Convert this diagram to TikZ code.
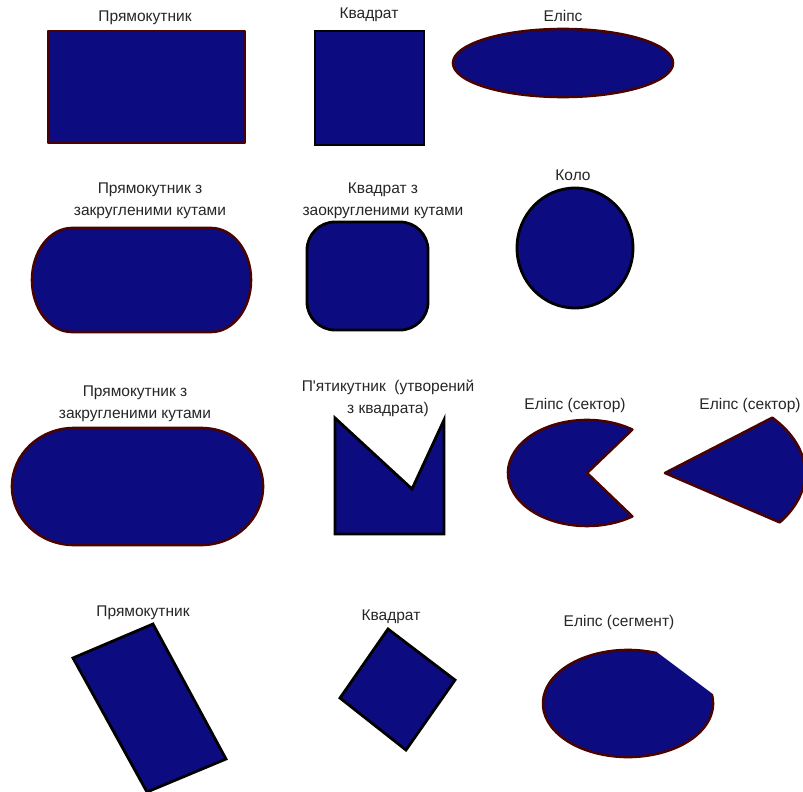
\documentclass[tikz,border=0pt]{standalone}
\usepackage{fontspec}
\newfontfamily\lab{Liberation Sans}[Ligatures=TeXOff]
\definecolor{navy}{RGB}{12,12,128}
\definecolor{maroon}{RGB}{72,2,2}
\begin{document}
\begin{tikzpicture}[x=1pt,y=1pt,
 redshape/.style={fill=navy,draw=maroon,line width=2.6pt,line join=round},
 blkshape/.style={fill=navy,draw=black,line width=2.8pt,line join=miter},
 lbl/.style={font=\lab\fontsize{15.5}{22}\selectfont, text=black!85, align=center, inner sep=0pt}]
\useasboundingbox (0,0) rectangle (803,-792);
\clip (0,0) rectangle (803,-792);
% row 1
\draw[redshape] (48,-31) rectangle (245,-143);
\node[lbl] (l1) at (145,-18) {Прямокутник};
\draw[blkshape] (315,-31) rectangle (424,-145);
\node[lbl] (l2) at (369,-15) {Квадрат};
\draw[redshape] (563,-63) ellipse [x radius=110, y radius=34];
\node[lbl] (l3) at (563,-16) {Еліпс};
% row 2
\draw[redshape] (72,-228) -- (211,-228) arc[start angle=90,end angle=-90,x radius=40,y radius=52] -- (72,-332) arc[start angle=270,end angle=90,x radius=40,y radius=52] -- cycle;
\node[lbl] (l4) at (150,-201) {Прямокутник з\\закругленими кутами};
\draw[blkshape, rounded corners=28] (307,-222) rectangle (428,-330);
\node[lbl] (l5) at (383,-201) {Квадрат з\\заокругленими кутами};
\draw[blkshape] (575,-248) ellipse [x radius=58, y radius=60];
\node[lbl] (l6) at (573,-175) {Коло};
% row 3
\draw[redshape] (74,-428) -- (201,-428) arc[start angle=90,end angle=-90,x radius=62,y radius=58.5] -- (74,-545) arc[start angle=270,end angle=90,x radius=62,y radius=58.5] -- cycle;
\node[lbl] (l7) at (135,-404) {Прямокутник з\\закругленими кутами};
\draw[blkshape] (335,-418) -- (412,-489) -- (444,-420) -- (444,-534) -- (335,-534) -- cycle;
\node[lbl] (l8) at (388,-398) {П'ятикутник\ \ (утворений\\з квадрата)};
\draw[redshape] (587,-473) -- ++(55:79 and 53) arc[start angle=55,end angle=305,x radius=79,y radius=53] -- cycle;
\node[lbl] (l9) at (575,-405) {Еліпс (сектор)};
\draw[redshape] (665,-473) -- ++(-35:140 and 86) arc[start angle=-35,end angle=40,x radius=140,y radius=86] -- cycle;
\node[lbl] (l10) at (750,-405) {Еліпс (сектор)};
% row 4
\draw[blkshape] (73,-658) -- (153,-624) -- (226,-759) -- (147,-792) -- cycle;
\node[lbl] (l11) at (143,-613) {Прямокутник};
\draw[blkshape] (388,-629) -- (455,-680) -- (406,-750) -- (340,-698) -- cycle;
\node[lbl] (l12) at (391,-617) {Квадрат};
\path (628,-703.5) ++(70:85 and 53.5) coordinate (s1);
\filldraw[fill=navy,draw=navy,line width=1.5pt] (s1) arc[start angle=70,end angle=370,x radius=85,y radius=53.5] -- cycle;
\draw[maroon,line width=2.6pt] (s1) arc[start angle=70,end angle=370,x radius=85,y radius=53.5];
\node[lbl] (l13) at (619,-622) {Еліпс (сегмент)};
\end{tikzpicture}
\end{document}
